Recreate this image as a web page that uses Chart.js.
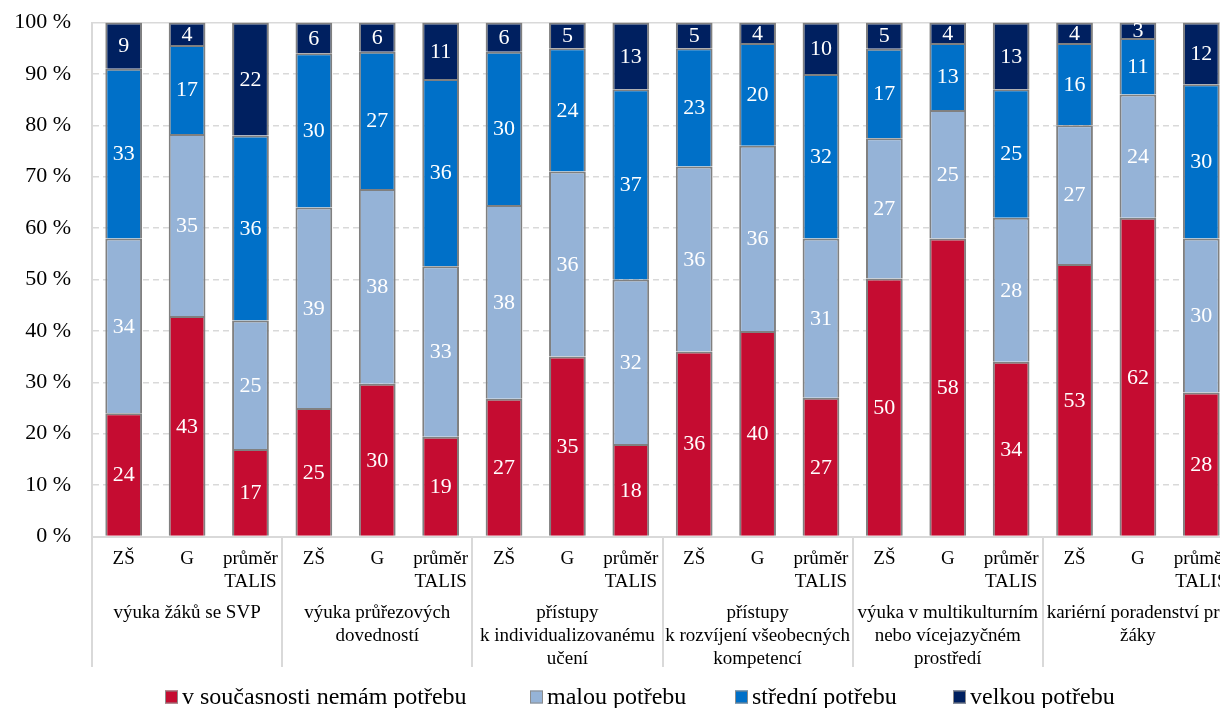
<!DOCTYPE html>
<html><head><meta charset="utf-8">
<script src="https://cdn.jsdelivr.net/npm/chart.js@4/dist/chart.umd.min.js"></script>
<style>html,body{margin:0;padding:0;background:#fff;overflow:hidden;width:1220px;height:708px}canvas{display:block}</style>
</head><body>
<canvas id="c" width="1280" height="708"></canvas>
<script>
const subLabels = ['ZŠ', 'G', ['průměr', 'TALIS']];
const groupLabels = [
  ['výuka žáků se SVP'],
  ['výuka průřezových', 'dovedností'],
  ['přístupy', 'k individualizovanému', 'učení'],
  ['přístupy', 'k rozvíjení všeobecných', 'kompetencí'],
  ['výuka v multikulturním', 'nebo vícejazyčném', 'prostředí'],
  ['kariérní poradenství pro', 'žáky']
];
const seriesNames = ['v současnosti nemám potřebu', 'malou potřebu', 'střední potřebu', 'velkou potřebu'];
const seriesColors = ['#C50C31', '#95B3D7', '#0070C8', '#002060'];
const noNeed     = [24, 42.9, 17, 25, 29.7, 19.4, 26.8, 35, 18, 36, 40, 27, 50.2, 58, 34, 53, 62, 28];
const smallNeed  = [34, 35.4, 25, 39, 37.9, 33.2, 37.7, 36, 32, 36, 36, 31, 27.3, 25, 28, 27, 24, 30];
const mediumNeed = [33, 17.3, 36, 30, 26.7, 36.4, 29.8, 24, 37, 23, 20, 32, 17.4, 13, 25, 16, 11, 30];
const highNeed   = [9, 4.4, 22, 6, 5.7, 11.0, 5.7, 5, 13, 5, 4, 10, 5.1, 4, 13, 4, 3, 12];
const yTicks = [0, 10, 20, 30, 40, 50, 60, 70, 80, 90, 100];

const categories = [];
groupLabels.forEach(() => subLabels.forEach(s => categories.push(s)));
const seriesData = [noNeed, smallNeed, mediumNeed, highNeed];

Chart.defaults.font.family = "'Liberation Serif', 'Times New Roman', serif";
Chart.defaults.color = '#000';

const FONT = "'Liberation Serif', 'Times New Roman', serif";
const GRID = '#D9D9D9';

const valueLabels = {
  id: 'valueLabels',
  afterDatasetsDraw(chart) {
    const ctx = chart.ctx;
    ctx.save();
    ctx.fillStyle = '#fff';
    ctx.font = '22px ' + FONT;
    ctx.textAlign = 'center';
    ctx.textBaseline = 'middle';
    chart.data.datasets.forEach((ds, di) => {
      const meta = chart.getDatasetMeta(di);
      meta.data.forEach((el, i) => {
        const v = ds.data[i];
        const cy = (el.y + el.base) / 2;
        ctx.fillText(String(Math.round(v)), el.x, cy + 1);
      });
    });
    ctx.restore();
  }
};

const groupAxis = {
  id: 'groupAxis',
  afterDraw(chart) {
    const ctx = chart.ctx;
    const x = chart.scales.x;
    const area = chart.chartArea;
    const n = subLabels.length;
    const half = (x.getPixelForValue(1) - x.getPixelForValue(0)) / 2;
    ctx.save();
    ctx.strokeStyle = GRID;
    ctx.lineWidth = 2;
    for (let g = 0; g <= groupLabels.length; g++) {
      const px = Math.round(x.getPixelForValue(g * n) - half);
      ctx.beginPath();
      ctx.moveTo(px, area.bottom);
      ctx.lineTo(px, 667);
      ctx.stroke();
    }
    ctx.fillStyle = '#000';
    ctx.font = '19px ' + FONT;
    ctx.textAlign = 'center';
    ctx.textBaseline = 'middle';
    groupLabels.forEach((lines, g) => {
      const cx = (x.getPixelForValue(g * n) + x.getPixelForValue(g * n + n - 1)) / 2;
      lines.forEach((t, li) => ctx.fillText(t, cx, 613 + li * 23));
    });
    // legend
    ctx.font = '24px ' + FONT;
    ctx.textAlign = 'left';
    const box = 13, gapText = 4;
    const itemX = [165, 530, 735, 953];
    const ly = 697;
    seriesNames.forEach((s, i) => {
      const lx = itemX[i];
      ctx.fillStyle = seriesColors[i];
      ctx.fillRect(lx, ly - box / 2, box, box);
      ctx.strokeStyle = '#8C8C8C';
      ctx.lineWidth = 1;
      ctx.strokeRect(lx + 0.5, ly - box / 2 + 0.5, box - 1, box - 1);
      ctx.fillStyle = '#000';
      ctx.fillText(s, lx + box + gapText, ly + 1);
    });
    ctx.restore();
  }
};

new Chart(document.getElementById('c'), {
  type: 'bar',
  data: {
    labels: categories,
    datasets: seriesData.map((d, i) => ({
      label: seriesNames[i],
      data: d,
      backgroundColor: seriesColors[i],
      borderColor: '#808080',
      borderWidth: 2,
      barPercentage: 0.58,
      categoryPercentage: 1
    }))
  },
  options: {
    responsive: false,
    animation: false,
    layout: { autoPadding: false, padding: { top: 22.5, left: 0, right: 47, bottom: 0 } },
    plugins: { legend: { display: false }, tooltip: { enabled: false } },
    scales: {
      x: {
        stacked: true,
        grid: { display: false },
        border: { display: true, color: GRID, width: 2 },
        ticks: { font: { size: 19 }, color: '#000', padding: 3, maxRotation: 0, autoSkip: false },
        afterFit(s) { s.height = 708 - 536.5 - 0; }
      },
      y: {
        stacked: true,
        min: 0, max: 100,
        afterBuildTicks(s) { s.ticks = yTicks.map(v => ({ value: v })); },
        ticks: { font: { size: 22 }, color: '#000', padding: 21, callback: v => v + ' %' },
        grid: { color: GRID, lineWidth: 1.5, drawTicks: false },
        border: { display: true, color: GRID, width: 2, dash: c => (c.tick && c.tick.value === 100) ? [] : [6, 4] },
        afterFit(s) { s.width = 92; s.paddingTop = 0; s.paddingBottom = 0; }
      }
    }
  },
  plugins: [valueLabels, groupAxis]
});
</script>
</body></html>
